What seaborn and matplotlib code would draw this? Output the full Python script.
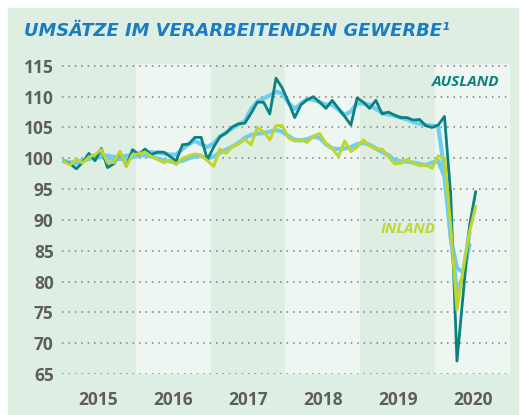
import numpy as np
import pandas as pd
import matplotlib
matplotlib.use("Agg")
import matplotlib.pyplot as plt
import seaborn as sns
from matplotlib.patches import Rectangle

# =========================
# DATA (monthly index, Jan 2015 = 0)
# =========================
ausland = [99.5, 99.1, 98.3, 99.3, 100.8, 99.6, 101.6, 98.5, 99.1, 101.0, 98.7, 101.4,
           100.6, 101.5, 100.6, 101.0, 101.0, 100.3, 99.6, 102.2, 102.3, 103.4, 103.4, 99.8,
           101.8, 103.5, 104.1, 105.1, 105.6, 105.7, 107.3, 109.1, 109.1, 107.2, 113.0, 111.4,
           109.1, 106.6, 108.7, 109.5, 110.0, 109.1, 108.1, 109.4, 108.1, 106.8, 105.4, 109.8,
           109.1, 108.1, 109.4, 107.2, 107.5, 107.0, 106.6, 106.6, 106.2, 106.3, 105.3, 105.0,
           105.4, 106.8, 94.0, 67.1, 78.0, 89.0, 94.6]

inland = [99.5, 98.9, 99.9, 99.2, 100.2, 100.6, 101.4, 99.3, 99.3, 101.1, 98.7, 100.6,
          100.7, 101.0, 100.3, 99.8, 99.3, 99.7, 99.0, 100.0, 100.4, 100.7, 100.5, 99.6,
          98.7, 101.5, 100.8, 101.9, 102.3, 103.1, 102.2, 105.0, 104.3, 103.0, 105.3, 105.3,
          103.3, 102.8, 103.0, 102.6, 103.6, 104.0, 102.4, 101.6, 100.3, 102.8, 101.1, 101.8,
          103.0, 102.0, 101.5, 101.5, 100.3, 99.1, 99.2, 99.8, 99.2, 98.8, 98.9, 98.4,
          100.4, 100.0, 89.0, 75.4, 82.0, 88.0, 92.2]

ausland_trend = [99.6, 99.3, 99.2, 99.5, 100.0, 100.3, 100.5, 100.4, 100.2, 100.2, 100.4, 100.6,
                 100.8, 101.0, 101.0, 100.9, 100.8, 100.6, 100.6, 101.5, 102.3, 102.8, 102.3, 101.8,
                 102.4, 103.5, 104.2, 104.9, 105.5, 106.0, 108.0, 109.2, 109.7, 110.2, 110.8, 110.5,
                 109.0, 108.0, 108.9, 109.6, 109.5, 109.1, 108.7, 108.7, 107.9, 107.0, 107.6, 108.9,
                 108.9, 108.7, 108.0, 107.4, 107.1, 106.9, 106.6, 106.3, 105.9, 105.6, 105.4, 105.3,
                 105.1, 98.0, 87.0, 82.2, 81.5, 88.0]

inland_trend = [99.5, 99.3, 99.4, 99.6, 99.9, 100.1, 100.2, 100.0, 99.9, 99.9, 100.0, 100.2,
                100.4, 100.5, 100.3, 100.0, 99.7, 99.5, 99.4, 99.6, 100.0, 100.3, 100.4, 99.9,
                100.3, 100.9, 101.4, 101.9, 102.5, 103.3, 103.8, 104.0, 104.1, 104.3, 104.6, 104.3,
                103.6, 103.0, 102.9, 103.1, 103.5, 103.3, 102.3, 101.6, 101.5, 101.6, 101.8, 102.3,
                102.5, 102.2, 101.6, 101.0, 100.5, 99.7, 99.5, 99.5, 99.3, 99.1, 98.9, 99.3,
                99.6, 97.0, 87.5, 78.2, 81.0, 86.0]

years = ["2015", "2016", "2017", "2018", "2019", "2020"]
y_ticks = [65, 70, 75, 80, 85, 90, 95, 100, 105, 110, 115]

# =========================
# STYLE
# =========================
sns.set_theme(style="white")
plt.rcParams['font.family'] = ['Open Sans', 'DejaVu Sans']

bg = "#deeee3"
band = "#eef6f1"
teal = "#0a8280"
lime = "#bfd630"
sky = "#6fcdf2"
grey = "#5e5e5e"

fig = plt.figure(figsize=(5.2, 4.15), dpi=100)
fig.patch.set_facecolor("white")
fig.patches.append(Rectangle((8 / 520, 0), 510 / 520, 407 / 415,
                             transform=fig.transFigure, color=bg, zorder=-5))

ax = fig.add_axes([62 / 520, 1 - 374 / 415, 448 / 520, 310 / 415])
ax.set_facecolor(bg)
ax.set_zorder(2)

# lighter year bands
for k in [1, 3, 5]:
    ax.axvspan(12 * k - 0.5, 12 * k + 11.5, color=band, lw=0, zorder=0)

for v in y_ticks:
    ax.axhline(v, color="#7d7d7d", lw=1.1, ls=(0, (1, 3.2)), zorder=1)

# =========================
# LINES
# =========================
sns.lineplot(x=np.arange(len(ausland_trend)), y=ausland_trend, ax=ax,
             color=sky, lw=3.0, zorder=2)
sns.lineplot(x=np.arange(len(inland_trend)), y=inland_trend, ax=ax,
             color=sky, lw=3.0, zorder=2)
sns.lineplot(x=np.arange(len(ausland)), y=ausland, ax=ax,
             color=teal, lw=2.0, zorder=3)
sns.lineplot(x=np.arange(len(inland)), y=inland, ax=ax,
             color=lime, lw=2.2, zorder=4)

ax.set_xlim(-0.3, 71.5)
ax.set_ylim(65, 115.3)
ax.set_yticks(y_ticks)
ax.set_yticklabels([str(v) for v in y_ticks])
ax.set_xticks([5.5 + 12 * i for i in range(len(years))])
ax.set_xticklabels(years)
ax.tick_params(length=0, labelsize=12.5, labelcolor=grey, pad=6)
ax.tick_params(axis="x", pad=12)
for lab in ax.get_xticklabels() + ax.get_yticklabels():
    lab.set_fontweight("bold")
for s in ax.spines.values():
    s.set_visible(False)
ax.set_xlabel("")
ax.set_ylabel("")

ax.text(69.9, 112.3, "AUSLAND", color=teal, fontsize=11, fontweight="bold",
        fontstyle="italic", ha="right", va="center")
ax.text(50.8, 88.5, "INLAND", color=lime, fontsize=10.8, fontweight="bold",
        fontstyle="italic", ha="left", va="center")

fig.text(24 / 520, 1 - 31 / 415, "UMSÄTZE IM VERARBEITENDEN GEWERBE¹",
         color="#1a7cc4", fontsize=12.9, fontweight="bold", fontstyle="italic",
         family=["DejaVu Sans"], ha="left", va="center")

plt.savefig("out.png", dpi=100)
